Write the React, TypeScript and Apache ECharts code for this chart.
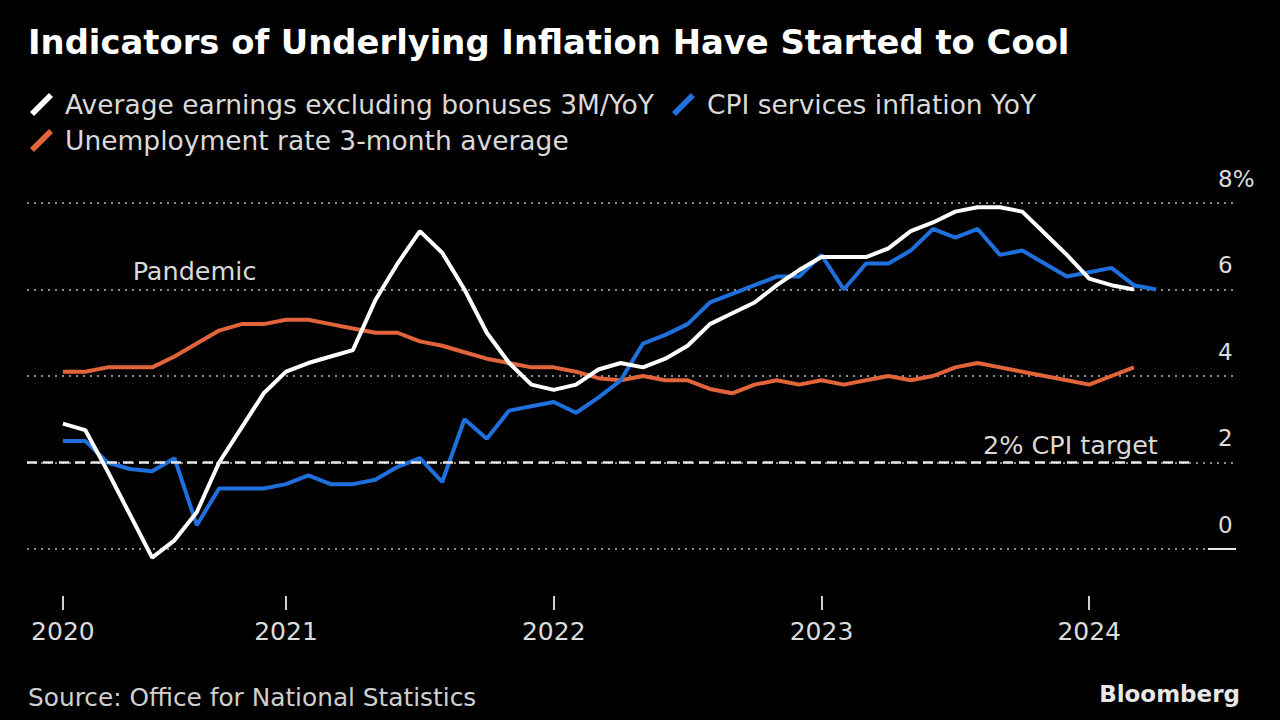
import React, { useEffect, useRef } from "react";
import * as echarts from "echarts";

// Month index 0 = Mar 2020 (3 months to Mar 2020)
const wageGrowth = [
  2.9, 2.75, 1.8, 0.8, -0.2, 0.2, 0.85, 2.0, 2.8, 3.6, 4.1, 4.3, 4.45, 4.6, 5.75, 6.6, 7.35, 6.85,
  6.0, 5.0, 4.3, 3.8, 3.68, 3.8, 4.15, 4.3, 4.2, 4.4, 4.7, 5.2, 5.45, 5.7, 6.1, 6.45, 6.75, 6.75,
  6.75, 6.95, 7.35, 7.55, 7.8, 7.9, 7.9, 7.8, 7.3, 6.8, 6.25, 6.1, 6.0,
];
const cpiServices = [
  2.5, 2.5, 2.0, 1.85, 1.8, 2.1, 0.55, 1.4, 1.4, 1.4, 1.5, 1.7, 1.5, 1.5, 1.6, 1.9, 2.1, 1.55,
  3.0, 2.55, 3.2, 3.3, 3.4, 3.15, 3.5, 3.9, 4.75, 4.95, 5.2, 5.7, 5.9, 6.1, 6.3, 6.3, 6.8, 6.0,
  6.6, 6.6, 6.9, 7.4, 7.2, 7.4, 6.8, 6.9, 6.6, 6.3, 6.4, 6.5, 6.1, 6.0,
];
const unemployment = [
  4.1, 4.1, 4.2, 4.2, 4.2, 4.45, 4.75, 5.05, 5.2, 5.2, 5.3, 5.3, 5.2, 5.1, 5.0, 5.0, 4.8, 4.7,
  4.55, 4.4, 4.3, 4.2, 4.2, 4.1, 3.95, 3.9, 4.0, 3.9, 3.9, 3.7, 3.6, 3.8, 3.9, 3.8, 3.9, 3.8,
  3.9, 4.0, 3.9, 4.0, 4.2, 4.3, 4.2, 4.1, 4.0, 3.9, 3.8, 4.0, 4.2,
];

const seriesNames = [
  "Average earnings excluding bonuses 3M/YoY",
  "CPI services inflation YoY",
  "Unemployment rate 3-month average",
];
const yearTicks = [0, 10, 22, 34, 46];
const yearLabels = ["2020", "2021", "2022", "2023", "2024"];
const cpiTarget = 2;

const FONT = '"DejaVu Sans", sans-serif';
const ICON = "path://M1.2,18.2 L18.2,1.2 L21.8,4.8 L4.8,21.8 Z";

export default function App() {
  const ref = useRef<HTMLDivElement>(null);

  useEffect(() => {
    if (!ref.current) return;
    const chart = echarts.init(ref.current, undefined, { renderer: "svg" });
    const toPairs = (arr: number[]) => arr.map((v, i) => [i, v]);
    const xMin = -1.61;
    const xMax = 52.58;

    const legendText = { color: "#d9d9d9", fontSize: 26.5, fontFamily: FONT, padding: [0, 0, 0, 7] };

    chart.setOption({
      animation: false,
      backgroundColor: "#000000",
      textStyle: { fontFamily: FONT },
      grid: [
        { left: 27, right: 44, top: 203, bottom: 171, containLabel: false },
        { left: 27, right: 44, top: 595, height: 1, containLabel: false },
      ],
      legend: [
        {
          left: 30,
          top: 91,
          padding: 0,
          itemGap: 18,
          itemWidth: 23,
          itemHeight: 23,
          icon: ICON,
          itemStyle: { borderWidth: 0 },
          selectedMode: false,
          data: [seriesNames[0], seriesNames[1]],
          textStyle: legendText,
        },
        {
          left: 30,
          top: 127,
          padding: 0,
          itemWidth: 23,
          itemHeight: 23,
          icon: ICON,
          itemStyle: { borderWidth: 0 },
          selectedMode: false,
          data: [seriesNames[2]],
          textStyle: legendText,
        },
      ],
      xAxis: [
        {
          type: "value",
          gridIndex: 0,
          min: xMin,
          max: xMax,
          show: true,
          axisLine: { show: false },
          axisTick: { show: false },
          axisLabel: { show: false },
          splitLine: { show: false },
        },
        {
          type: "value",
          gridIndex: 1,
          min: xMin,
          max: xMax,
          axisLine: { show: false },
          splitLine: { show: false },
          axisTick: {
            show: true,
            length: 14,
            customValues: yearTicks,
            lineStyle: { color: "#cfcfcf", width: 2 },
          },
          axisLabel: {
            customValues: yearTicks,
            formatter: (v: number) => yearLabels[yearTicks.indexOf(v)] ?? "",
            margin: 23,
            fontSize: 25,
            color: "#dcdcdc",
            fontFamily: FONT,
          },
        },
      ],
      yAxis: [
        {
          type: "value",
          gridIndex: 0,
          position: "right",
          min: 0,
          max: 8,
          interval: 2,
          axisLine: { show: false },
          axisTick: { show: false },
          splitLine: {
            show: true,
            lineStyle: { color: "#8c8c8c", width: 2, type: [2, 5] },
          },
          axisLabel: {
            margin: -18,
            align: "left",
            verticalAlign: "bottom",
            padding: [0, 0, 13, 0],
            fontSize: 23,
            color: "#dcdcdc",
            fontFamily: FONT,
            formatter: (v: number) => (v === 8 ? "8%" : String(v)),
          },
        },
        {
          type: "value",
          gridIndex: 1,
          min: 0,
          max: 1,
          show: false,
        },
      ],
      series: [
        {
          name: seriesNames[2],
          type: "line",
          xAxisIndex: 0,
          yAxisIndex: 0,
          data: toPairs(unemployment),
          symbol: "none",
          clip: false,
          z: 2,
          color: "#e2643a",
          lineStyle: { color: "#e2643a", width: 4 },
          markLine: {
            silent: true,
            symbol: ["none", "none"],
            label: { show: false },
            data: [
              [
                { coord: [xMin, cpiTarget], lineStyle: { color: "#e6e6e6", type: [10, 6], width: 2.5 } },
                { coord: [50.6, cpiTarget] },
              ],
              [
                { coord: [51.32, 0], lineStyle: { color: "#e6e6e6", type: "solid", width: 2 } },
                { coord: [xMax, 0] },
              ],
            ],
          },
          markPoint: {
            silent: true,
            symbol: "circle",
            symbolSize: 1,
            itemStyle: { color: "rgba(0,0,0,0)" },
            data: [
              {
                coord: [5.9, 6.43],
                label: {
                  show: true,
                  position: "inside",
                  formatter: "Pandemic",
                  color: "#d9d9d9",
                  fontSize: 25.5,
                  fontFamily: FONT,
                },
              },
              {
                coord: [49.1, 2.4],
                label: {
                  show: true,
                  position: "left",
                  distance: 0,
                  formatter: "2% CPI target",
                  color: "#d9d9d9",
                  fontSize: 25.5,
                  fontFamily: FONT,
                },
              },
            ],
          },
        },
        {
          name: seriesNames[1],
          type: "line",
          xAxisIndex: 0,
          yAxisIndex: 0,
          data: toPairs(cpiServices),
          symbol: "none",
          clip: false,
          z: 3,
          color: "#1f6fdc",
          lineStyle: { color: "#1f6fdc", width: 4 },
        },
        {
          name: seriesNames[0],
          type: "line",
          xAxisIndex: 0,
          yAxisIndex: 0,
          data: toPairs(wageGrowth),
          symbol: "none",
          clip: false,
          z: 4,
          color: "#ffffff",
          lineStyle: { color: "#ffffff", width: 4 },
        },
      ],
      graphic: [
        {
          type: "text",
          x: 28,
          y: 42,
          style: {
            text: "Indicators of Underlying Inflation Have Started to Cool",
            fill: "#ffffff",
            font: `bold 33.8px ${FONT}`,
            align: "left",
            verticalAlign: "middle",
          },
        },
        {
          type: "text",
          x: 28,
          y: 697,
          style: {
            text: "Source: Office for National Statistics",
            fill: "#cfcfcf",
            font: `24.8px ${FONT}`,
            align: "left",
            verticalAlign: "middle",
          },
        },
        {
          type: "text",
          x: 1240,
          y: 694,
          style: {
            text: "Bloomberg",
            fill: "#e8e8e8",
            font: `bold 23px ${FONT}`,
            align: "right",
            verticalAlign: "middle",
          },
        },
      ],
    });

    return () => chart.dispose();
  }, []);

  return (
    <div
      ref={ref}
      style={{ position: "fixed", left: 0, top: 0, width: 1280, height: 720, background: "#000" }}
    />
  );
}
